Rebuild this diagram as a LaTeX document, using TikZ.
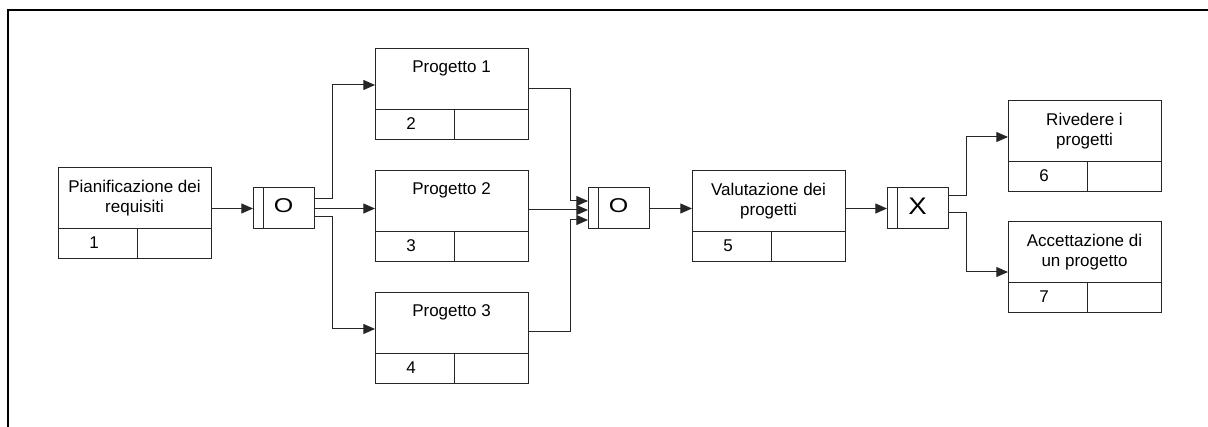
\documentclass[tikz,border=0pt]{standalone}
\usepackage{fontspec}
\usepackage{graphicx}
\setmainfont{Liberation Sans}
\usetikzlibrary{arrows.meta,calc}

% Coordinates are given in pixel-like units, y pointing down
\tikzset{
  x=0.75pt, y=-0.75pt,
  frameline/.style={line width=1.5pt, black},
  thinline/.style={line width=0.75pt, black!85},
  taskbody/.style={thinline, draw, rectangle, anchor=north west,
    minimum width=114.75pt, minimum height=68.25pt, inner sep=0pt, outer sep=0pt},
  gatebody/.style={thinline, draw, rectangle, anchor=north west,
    minimum width=45.75pt, minimum height=30.75pt, inner sep=0pt, outer sep=0pt},
  boxtext/.style={anchor=north, inner sep=0pt, align=center,
    font=\fontsize{12.75pt}{15pt}\selectfont},
  numtext/.style={inner sep=0pt, font=\fontsize{12.75pt}{15pt}\selectfont},
  gatetext/.style={inner sep=0pt},
  flow/.style={thinline, -{Triangle[length=8.75pt,width=7.5pt]}},
}

% task box: name, x, y, description, number
\newcommand\taskbox[5]{%
  \node[taskbody] (#1) at (#2,#3) {};
  \draw[thinline] ($(#1.north west)+(0,61)$) -- ($(#1.north east)+(0,61)$);
  \draw[thinline] ($(#1.north west)+(79,61)$) -- ($(#1.south west)+(79,0)$);
  \node[boxtext] (#1-t) at ($(#1.north)+(0,11.7)$) {#4};
  \node[numtext] (#1-n) at ($(#1.north west)+(36,75)$) {#5};
}

% junction box: name, x, y, letter, font size, horizontal stretch
\newcommand\gatebox[6]{%
  \node[gatebody] (#1) at (#2,#3) {};
  \draw[thinline] ($(#1.north west)+(10,0)$) -- ($(#1.south west)+(10,0)$);
  \node[gatetext, font=\fontsize{#5}{#5}\selectfont] (#1-l) at ($(#1.center)+(0,-2.5)$) {\scalebox{#6}[1]{#4}};
}

\begin{document}
\begin{tikzpicture}
  \useasboundingbox (0,0) rectangle (1208,427);

  % outer frame
  \draw[frameline] (8,427) -- (8,10) -- (1208,10);

  % tasks
  \taskbox{b1}{58}{168}{Pianificazione dei\\requisiti}{1}
  \taskbox{b2}{375}{49}{Progetto 1}{2}
  \taskbox{b3}{375}{171}{Progetto 2}{3}
  \taskbox{b4}{375}{293}{Progetto 3}{4}
  \taskbox{b5}{692}{171}{Valutazione dei\\progetti}{5}
  \taskbox{b6}{1008}{101}{Rivedere i\\progetti}{6}
  \taskbox{b7}{1008}{222}{Accettazione di\\un progetto}{7}

  % junctions
  \gatebox{g1}{253}{188}{O}{15pt}{1.25}
  \gatebox{g2}{588}{188}{O}{15pt}{1.25}
  \gatebox{g3}{887}{188}{X}{18pt}{1.15}

  % flow into the first junction
  \draw[flow] (g1.west -| b1.east) -- (g1.west);

  % fan-out to the three projects
  \draw[flow] ($(g1.north east)+(0,11)$) -- ++(18,0) |- ($(b2.north west)+(0,36)$);
  \draw[flow] (g1.east) -- (g1.east -| b3.west);
  \draw[flow] ($(g1.north east)+(0,29)$) -- ++(18,0) |- ($(b4.north west)+(0,36)$);

  % fan-in to the second junction
  \coordinate (g2in) at ($(g2.north west)+(0,22)$);
  \draw[flow] ($(b2.north east)+(0,40)$) -- ++(42,0) |- ($(g2.north west)+(0,13)$);
  \draw[flow] (g2in -| b3.east) -- (g2in);
  \draw[flow] ($(b4.north east)+(0,39)$) -- ++(42,0) |- ($(g2.north west)+(0,32)$);

  % evaluation
  \draw[flow] (g2.east) -- (g2.east -| b5.west);
  \draw[flow] (g3.west -| b5.east) -- (g3.west);

  % final choice
  \draw[flow] ($(g3.north east)+(0,8)$) -- ++(18,0) |- ($(b6.north west)+(0,36)$);
  \draw[flow] ($(g3.north east)+(0,25)$) -- ++(18,0) |- ($(b7.north west)+(0,50)$);
\end{tikzpicture}
\end{document}
